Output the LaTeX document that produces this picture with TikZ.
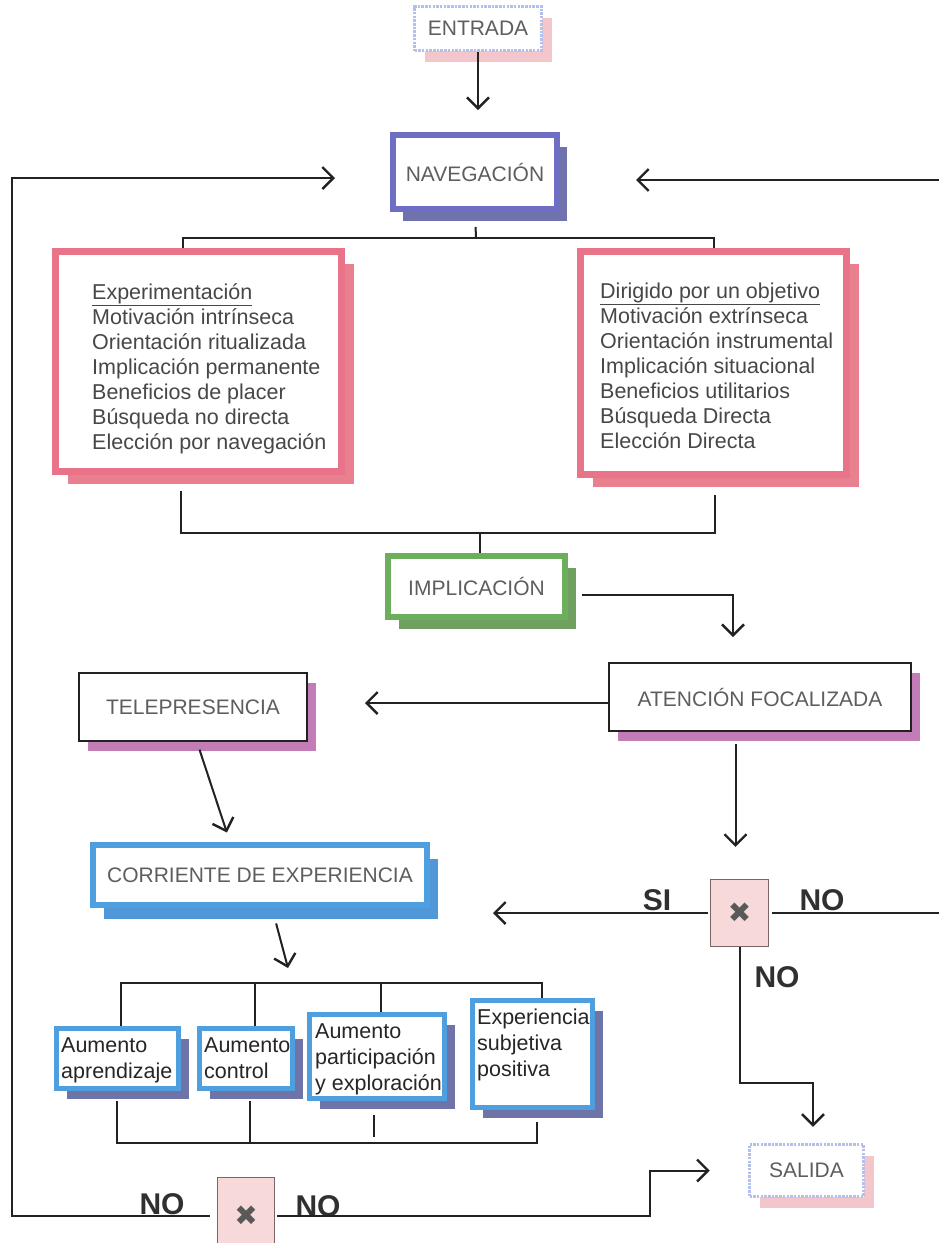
\documentclass[tikz,border=0pt]{standalone}
\usepackage{fontspec}
\setmainfont{Liberation Sans}
\newfontfamily\symfont{DejaVu Sans}
\usetikzlibrary{arrows.meta,shadows}

\definecolor{linec}{HTML}{222222}
\definecolor{navc}{HTML}{6E6EC4}
\definecolor{navsh}{HTML}{6F72AC}
\definecolor{pinkc}{HTML}{E97489}
\definecolor{pinksh}{HTML}{E9808F}
\definecolor{greenc}{HTML}{6DAE5C}
\definecolor{greensh}{HTML}{6FA05F}
\definecolor{magsh}{HTML}{C27DB6}
\definecolor{bluec}{HTML}{4D9FE0}
\definecolor{bluesh}{HTML}{4F97D6}
\definecolor{slatesh}{HTML}{6F74A8}
\definecolor{lavc}{HTML}{B4C0EC}
\definecolor{pinklite}{HTML}{F3C6CB}
\definecolor{decfill}{HTML}{F6D9D8}
\definecolor{decdraw}{HTML}{7A6464}
\definecolor{headc}{HTML}{5E5E5E}
\definecolor{listc}{HTML}{474747}
\definecolor{ync}{HTML}{303030}

\begin{document}
\begin{tikzpicture}[x=1pt,y=-1pt,
  conn/.style={draw=linec, line width=2pt},
  arr/.style={conn, -{Straight Barb[length=11pt,width=22pt,line width=2.4pt]}},
  basebox/.style={rectangle, inner sep=0pt, fill=white},
  headtext/.style={font=\fontsize{21}{25}\selectfont, text=headc},
  listtext/.style={font=\fontsize{21.5}{25}\selectfont, text=listc, align=left, inner sep=0pt},
  smalltext/.style={font=\fontsize{21.5}{26}\selectfont, text=black!85, align=left, inner sep=0pt},
  yn/.style={font=\fontsize{30}{32}\selectfont\bfseries, text=ync, inner sep=0pt},
  endbox/.style={basebox, headtext, draw=lavc, line width=3.5pt,
    dash pattern=on 2.5pt off 1.2pt,
    drop shadow={shadow xshift=10pt, shadow yshift=-11pt, fill=pinklite, opacity=1}},
  navbox/.style={basebox, headtext, draw=navc, line width=6pt,
    drop shadow={shadow xshift=10pt, shadow yshift=-12pt, fill=navsh, opacity=1}},
  pinkbox/.style={basebox, draw=pinkc, line width=7pt,
    drop shadow={shadow xshift=12pt, shadow yshift=-12pt, fill=pinksh, opacity=1}},
  greenbox/.style={basebox, headtext, draw=greenc, line width=6pt,
    drop shadow={shadow xshift=11pt, shadow yshift=-12pt, fill=greensh, opacity=1}},
  magbox/.style={basebox, headtext, draw=linec, line width=2pt,
    drop shadow={shadow xshift=9pt, shadow yshift=-10pt, fill=magsh, opacity=1}},
  bluebox/.style={basebox, headtext, draw=bluec, line width=6pt,
    drop shadow={shadow xshift=11pt, shadow yshift=-14pt, fill=bluesh, opacity=1}},
  sbox/.style={basebox, draw=bluec, line width=5pt,
    drop shadow={shadow xshift=10pt, shadow yshift=-10pt, fill=slatesh, opacity=1}},
  decbox/.style={rectangle, inner sep=0pt, fill=decfill, draw=decdraw, line width=1.2pt,
    font=\symfont\fontsize{28}{28}\selectfont, text=black!65}]

\useasboundingbox (0,0) rectangle (939,1243);

% boxes
\node[endbox, minimum width=127pt, minimum height=44pt] (entrada) at (478,28.5) {ENTRADA};
\node[navbox, minimum width=164pt, minimum height=74pt] (nav) at (475,172) {NAVEGACIÓN};

\node[pinkbox, minimum width=286pt, minimum height=220pt] (exp) at (198.5,361.5) {};
\node[pinkbox, minimum width=266pt, minimum height=223pt] (goal) at (713.5,363) {};
\node[listtext, anchor=north west] (expt) at (92,283) {\underline{Experimentación}\\
  Motivación intrínseca\\Orientación ritualizada\\Implicación permanente\\
  Beneficios de placer\\Búsqueda no directa\\Elección por navegación};
\node[listtext, anchor=north west] (goalt) at (600,283) {\underline{Dirigido por un objetivo}\\
  Motivación extrínseca\\Orientación instrumental\\Implicación situacional\\
  Beneficios utilitarios\\Búsqueda Directa\\Elección Directa};

\node[greenbox, minimum width=177pt, minimum height=61pt] (impl) at (476.5,586.5) {IMPLICACIÓN};
\node[magbox, minimum width=302pt, minimum height=68pt] (aten) at (760,697) {ATENCIÓN FOCALIZADA};
\node[magbox, minimum width=228pt, minimum height=68pt] (tele) at (193,707) {TELEPRESENCIA};
\node[bluebox, minimum width=334pt, minimum height=60pt] (corr) at (260,875) {CORRIENTE DE EXPERIENCIA};

\node[decbox, minimum width=58pt, minimum height=67pt] (dec1) at (739.5,913) {✖};
\node[decbox, minimum width=57pt, minimum height=77pt] (dec2) at (246,1216) {✖};

\node[sbox, minimum width=122pt, minimum height=60pt] (s1) at (117.5,1058.5) {};
\node[sbox, minimum width=93pt, minimum height=60pt] (s2) at (246,1058.5) {};
\node[sbox, minimum width=135pt, minimum height=84pt] (s3) at (377,1056.5) {};
\node[sbox, minimum width=120pt, minimum height=107pt] (s4) at (532.5,1054) {};
\node[smalltext, anchor=north west] (s1t) at (61,1037) {Aumento\\aprendizaje};
\node[smalltext, anchor=north west] (s2t) at (204,1037) {Aumento\\control};
\node[smalltext, anchor=north west] (s3t) at (315,1023) {Aumento\\participación\\y exploración};
\node[smalltext, anchor=north west] (s4t) at (477,1009) {Experiencia\\subjetiva\\positiva};

\node[endbox, minimum width=114pt, minimum height=52pt] (salida) at (806.5,1170.5) {SALIDA};

% labels of the decisions
\node[yn, anchor=south] (si) at (657,911) {SI};
\node[yn, anchor=south] (no1) at (822,911) {NO};
\node[yn] (no2) at (777,977) {NO};
\node[yn, anchor=south] (no3) at (162,1215) {NO};
\node[yn, anchor=south] (no4) at (318,1217) {NO};

% helper points of the connectors
\coordinate (tb) at (476,238);
\coordinate (bb) at (480,533);
\coordinate (loopL) at (12,1216);
\coordinate (loopT) at (12,178);
\coordinate (loopIn) at (335,178);
\coordinate (loopR) at (943,913);
\coordinate (loopRT) at (943,180);
\coordinate (loopRin) at (636,180);
\coordinate (ia) at (733,637);
\coordinate (sb) at (813,1083);
\coordinate (cb) at (288,968);
\coordinate (bt) at (330,983);
\coordinate (bbot) at (330,1143);
\coordinate (b2) at (650,1216);

% connectors
\draw[arr, shorten >=22pt] (entrada.south) -- (entrada.south |- nav.north);

\draw[conn, shorten <=15pt] (nav.south) -- (tb);
\draw[conn] ([xshift=-16pt]exp.north) |- (tb) -| (goal.north);

\draw[conn] ([xshift=-18pt,yshift=-16pt]exp.south) |- (bb) -| ([xshift=1pt,yshift=-17pt]goal.south);
\draw[conn] (bb) -- (bb |- impl.north);

\draw[arr] ([xshift=14pt,yshift=-8pt]impl.east) -| (ia);
\draw[arr, shorten >=57pt] ([yshift=-6pt]aten.west) -- ([yshift=-6pt]aten.west -| tele.east);
\draw[arr, shorten <=12pt, shorten >=32pt] ([xshift=-4pt]dec1.north |- aten.south) -- ([xshift=-4pt]dec1.north);

\draw[arr, shorten <=2pt, shorten >=63pt] (dec1.west) -- (dec1.west -| corr.east);
\draw[arr, shorten <=3pt] (dec1.east) -- (loopR) -- (loopRT) -- (loopRin);
\draw[arr, shorten >=16pt] (dec1.south) |- (sb) -- (sb |- salida.north);

\draw[arr, shorten <=8pt, shorten >=10pt] ([xshift=4pt]tele.south) -- ([xshift=-30pt]corr.north);
\draw[arr, shorten <=16pt] ([xshift=12pt]corr.south) -- (cb);

\draw[conn] ([xshift=3.5pt]s1.north) |- (bt) -| ([xshift=9.5pt]s4.north);
\draw[conn] ([xshift=9pt]s2.north) -- ([xshift=9pt]s2.north |- bt);
\draw[conn] ([xshift=4pt]s3.north) -- ([xshift=4pt]s3.north |- bt);

\draw[conn, shorten <=10pt, shorten >=12pt] ([xshift=-0.5pt]s1.south) |- (bbot) -| ([xshift=4.5pt]s4.south);
\draw[conn, shorten <=10pt] ([xshift=4pt]s2.south) -- ([xshift=4pt]s2.south |- bbot);
\draw[conn, shorten <=14pt, shorten >=6pt] ([xshift=-3pt]s3.south) -- ([xshift=-3pt]s3.south |- bbot);

\draw[arr, shorten <=7pt] (dec2.west) -- (loopL) -- (loopT) -- (loopIn);
\draw[arr, shorten <=2pt, shorten >=38pt] (dec2.east) -- (b2) |- (salida.west);

\end{tikzpicture}
\end{document}
